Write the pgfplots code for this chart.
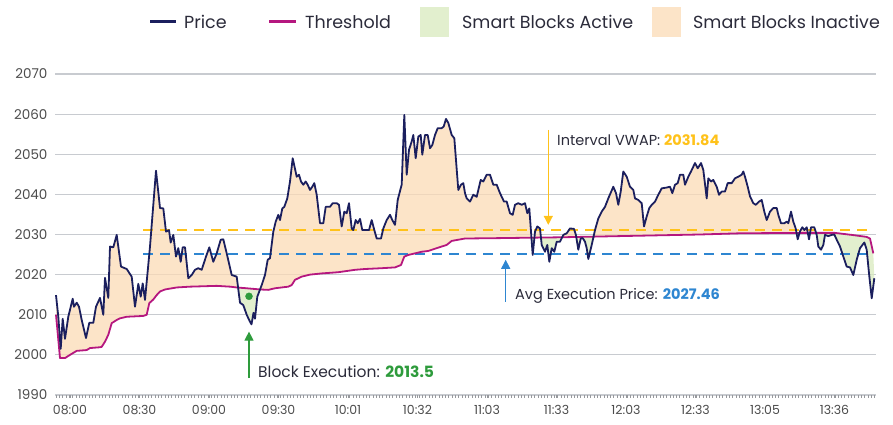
\documentclass[border=0pt]{standalone}
\usepackage{fontspec}
\setmainfont{Poppins}
\usepackage{pgfplots}
\usepackage{pgfplotstable}
\pgfplotsset{compat=1.18}
\usepgfplotslibrary{fillbetween}
\usetikzlibrary{arrows.meta}

\definecolor{navy}{HTML}{1B1F5E}
\definecolor{thresh}{HTML}{B5177F}
\definecolor{peach}{RGB}{251,219,182}
\definecolor{lime}{RGB}{216,234,190}
\definecolor{vwap}{HTML}{FFC21A}
\definecolor{avgblue}{HTML}{2E86D1}
\definecolor{execgreen}{HTML}{2E9B3C}
\definecolor{gridgray}{RGB}{200,203,208}
\definecolor{txt}{HTML}{2B2B3A}

% x = position along the session (tick labels give the clock time)
\pgfplotstableread{
x y
56 2014.9
58.3 2009.5
60.7 2001.5
62.7 2009
65 2004
68.3 2009.5
72.7 2014
74 2012
76.7 2013
79 2012
81.7 2008.7
86 2004.2
89.3 2008
93.3 2008
96 2012
100 2014.2
103.3 2010
105 2019.2
108.3 2014.2
110 2027
113.3 2026.8
116.7 2029.9
121 2022
126.7 2021.4
131.7 2019.5
135 2012
138.3 2017.7
140.7 2014.5
142.7 2017.8
145 2013.7
150 2027
156 2045.9
160 2036.6
163.3 2036.5
166 2030.7
169 2031.1
170.7 2028
173.3 2029.9
176 2024.5
178.3 2026.6
180.7 2023.2
182.7 2026.8
185 2026.8
188.3 2019.1
191.7 2019.9
195 2021.2
198.3 2021.6
201.7 2021.2
206 2024.5
209.3 2026.8
213.3 2023.2
216.7 2025.3
220.7 2028.7
223.3 2028.8
226.7 2025.3
231.7 2019.9
236.7 2019.5
240 2013
243.3 2012.4
246.7 2010
249.5 2008.5
251.5 2007.6
253.5 2010.5
255 2009
257.3 2014.5
261.7 2017.4
265 2019.9
267.7 2023.7
270 2024.1
273.3 2030.7
275.7 2033.2
278.3 2034.9
280 2033.6
282.3 2036.5
284.3 2036.9
287.3 2039
290 2043.2
292.7 2049
296.7 2044.4
299 2044.9
301 2043.2
303.3 2042.4
305.7 2043.2
307.7 2042.4
310 2041.1
312.3 2041.9
314.3 2042.8
316.7 2039.9
320 2032.8
323.3 2032.8
325.7 2036.9
330 2036.9
332.7 2037.8
336.7 2037.8
339 2037.4
341.7 2032
344.3 2035.7
346.7 2035.3
349 2037.8
351.7 2031.5
353.3 2031.1
355.7 2033.6
357.7 2032.8
360 2033.9
362.3 2031.1
366.7 2031.1
369 2031.1
371.7 2033.6
374.3 2031.1
376.7 2029
381 2029
383.3 2031.5
386.7 2033.6
390 2034.9
392.3 2033.6
395 2032.4
397.7 2038.6
400.7 2041.5
401.7 2042.4
404.3 2059.8
406.7 2044.9
409 2051.1
411.7 2053.2
413.3 2054.8
415.7 2049
418.3 2054.4
420.7 2054.8
422.3 2049.9
425 2054.8
427.7 2054.8
430 2051.5
432.3 2052.3
435 2054.8
437.7 2056.5
441.7 2056.5
443.7 2056.9
446 2058.8
448.3 2057.8
451.7 2054.8
454.3 2054
458.3 2041.1
461 2042.4
463.3 2042.8
465 2040.3
466.7 2039
470 2038.2
473.3 2039.9
476.7 2039.4
480.7 2043.6
483.3 2043.2
486.7 2044.9
490 2044.9
493.3 2042.4
496.7 2042.4
500 2040.3
504 2038.2
506.7 2038.2
510 2035.3
512.7 2034.9
515 2037.4
518.3 2037.8
521.7 2037.4
525 2037.8
527.3 2035.3
529.3 2036.5
532.7 2024.9
535 2030.7
537.3 2032
540 2031.5
541.7 2027.4
545 2025.7
547.3 2027.4
549.3 2023.2
551.7 2026.6
554.3 2025.7
556.7 2028.2
560 2028.2
563.3 2029.9
566.7 2030.3
570 2031.5
574 2031.4
576 2029.8
578.3 2026.2
580.7 2029
582.7 2029.1
585 2028.2
586.7 2026.6
588.3 2023.9
591.7 2027.4
595 2031.1
598.3 2034
601.7 2035.7
605 2036.9
608.3 2039
613.3 2041.9
616 2040.3
618.3 2037.4
620.7 2040.7
623.3 2045.7
626.7 2044.4
630 2041.9
633.3 2041.1
635 2039
638.3 2038.6
641.7 2037.8
644 2032
646.7 2034.5
649.3 2036.6
651.7 2037.4
655 2038.2
658.3 2039.9
661.7 2041.5
666.7 2041.7
670 2041.9
672.3 2040.3
675 2042.4
677.7 2042.8
680 2044.9
683.3 2044.9
685 2042.4
688.3 2044.4
691 2045.7
695 2047.8
697.7 2046.5
701 2047.8
703.3 2046.1
706.7 2039
708.3 2044
711 2043.2
713.3 2043.6
716.7 2041.9
719 2039.9
721.7 2040.7
725 2040.7
727.7 2042.8
731.7 2042.8
735 2044
738.3 2044.4
741.7 2044.9
743.3 2045.7
745 2044.4
747.7 2041.9
750 2039.5
753.3 2037.8
755.7 2037.4
759 2038.2
761.7 2038.6
764.3 2035.7
766.7 2033.6
770 2035.7
773.3 2036.6
776.7 2036.6
778.3 2034.9
781 2032.8
784.3 2032.8
786.7 2033.2
788.3 2032.8
791 2035.7
793.3 2033.2
795.7 2031.5
797.7 2028.8
800 2030.8
802.3 2031.8
804.3 2031.1
806.7 2031.8
809 2028.8
811 2031.8
814.3 2031.8
816.7 2029.9
818.3 2027
821 2026.2
823.3 2027.4
825 2029.9
828.3 2029.6
831.7 2029.9
834.3 2030
836.7 2028.7
840 2027
843.3 2024.5
846.7 2022
850 2021.8
853.3 2019.9
856.7 2023.7
860 2026.6
864.3 2028
866.7 2026.2
869 2020.3
871.7 2014.1
874.3 2019.1
}\pricedata

\pgfplotstableread{
x y
56 2010
60 1999.2
65 1999.2
70 2000
76.7 2001
86.7 2001.2
90 2001.7
100 2001.9
101.7 2002
105 2003.3
108.3 2005
111.7 2007.9
116.7 2008.7
120 2009.1
126.7 2009.5
143.3 2009.7
146.7 2010
149.3 2012.9
153.3 2013.8
156.7 2014.9
160 2015.8
165 2016.3
176.7 2016.8
190 2017
216.7 2017.2
230 2017
236.7 2016.8
246.7 2016.6
260 2016.3
268.3 2016.2
275 2016.6
288.3 2017
291.7 2017.4
295 2018.7
301.7 2019.5
310 2020
321.7 2020.3
338.3 2020.6
355 2021.2
365 2021.4
381.7 2021.6
395 2021.8
401 2022.4
404.3 2024.5
408.3 2024.9
421.7 2025.7
428.3 2025.9
436.7 2026.6
446.7 2027.4
451.7 2028.4
465 2029
500 2029.1
560 2029.3
620 2029.6
700 2030
740 2030.3
800 2030.4
835 2030.4
851.7 2029.9
866.7 2029.4
870 2029
873.3 2025.3
}\threshdata

\begin{document}
\begin{tikzpicture}
\begin{axis}[
    at={(0,0)}, anchor=south west,
    scale only axis, width=821pt, height=321pt,
    xmin=55, xmax=876, ymin=1990, ymax=2070,
    axis line style={draw=none},
    ytick={1990,2000,...,2070},
    ymajorgrids,
    major grid style={gridgray, line width=1.1pt},
    xtick={70,139.5,209,278.5,348,417.5,487,556.5,626,695.5,765,834.5},
    xticklabels={08:00,08:30,09:00,09:30,10:01,10:32,11:03,11:33,12:03,12:33,13:05,13:36},
    minor xtick={56,59.3,...,876},
    xtick pos=left, ytick pos=left,
    tick align=outside,
    major tick length=3pt, minor tick length=3pt,
    tick style={gridgray!75!black, line width=0.5pt},
    ytick style={draw=none},
    /pgf/number format/1000 sep={},
    /pgf/number format/assume math mode=true,
    tick label style={text=black!70},
    xticklabel style={font=\fontsize{12.5}{14}\selectfont, yshift=-4pt},
    yticklabel style={font=\fontsize{13.5}{15}\selectfont, xshift=-1pt},
    clip=false,
]
\addplot[draw=none, name path=price, forget plot] table {\pricedata};
\addplot[draw=none, name path=thr, forget plot] table {\threshdata};
\addplot[fill opacity=0.75] fill between[of=price and thr, split,
    every even segment/.style={fill=peach},
    every odd segment/.style={fill=lime}];

\addplot[vwap, line width=2pt, dash pattern=on 10pt off 7pt] coordinates {(143,2031) (873,2031)};
\addplot[avgblue, line width=2pt, dash pattern=on 10pt off 7pt] coordinates {(143,2025.2) (873,2025.2)};

\addplot[thresh, line width=1.8pt, line join=round] table {\threshdata};
\addplot[navy, line width=1.8pt, line join=round] table {\pricedata};
\addplot[only marks, mark=*, mark size=3.5pt, execgreen] coordinates {(249,2014.6)};

\draw[execgreen, line width=1.2pt, -{Triangle[width=9pt,length=9pt]}] (axis cs:249,1994.2) -- (axis cs:249,2005.8);
\draw[vwap, line width=1.2pt, -{Triangle[width=9pt,length=9pt]}] (axis cs:548.3,2056.1) -- (axis cs:548.3,2032.4);
\draw[avgblue, line width=1.2pt, -{Triangle[width=9pt,length=9pt]}] (axis cs:505.7,2013.2) -- (axis cs:505.7,2023.7);

\node[anchor=west, inner sep=0pt, text=txt, font=\fontsize{15.5}{18}\selectfont] at (axis cs:258,1995.7)
    {Block Execution: \textcolor{execgreen}{\textbf{2013.5}}};
\node[anchor=west, inner sep=0pt, text=txt, font=\fontsize{14.5}{18}\selectfont] at (axis cs:557,2053.6)
    {Interval VWAP: \textcolor{vwap}{\textbf{2031.84}}};
\node[anchor=west, inner sep=0pt, text=txt, font=\fontsize{14.5}{18}\selectfont] at (axis cs:515,2014.7)
    {Avg Execution Price: \textcolor{avgblue}{\textbf{2027.46}}};
\end{axis}

% legend
\begin{scope}[every node/.style={anchor=west, inner sep=0pt, text=txt, font=\fontsize{17.5}{20}\selectfont}]
\draw[navy, line width=3pt] (95pt,373pt) -- (121pt,373pt);
\node at (129pt,373pt) {Price};
\draw[thresh, line width=3pt] (214pt,373pt) -- (241pt,373pt);
\node at (250pt,373pt) {Threshold};
\fill[lime!75!white] (365pt,358pt) rectangle (394pt,388pt);
\node at (407pt,373pt) {Smart Blocks Active};
\fill[peach!75!white] (597pt,358pt) rectangle (626pt,388pt);
\node at (638pt,373pt) {Smart Blocks Inactive};
\end{scope}
\pgfresetboundingbox
\path (-55pt,-30pt) rectangle (838pt,395pt);
\end{tikzpicture}
\end{document}
